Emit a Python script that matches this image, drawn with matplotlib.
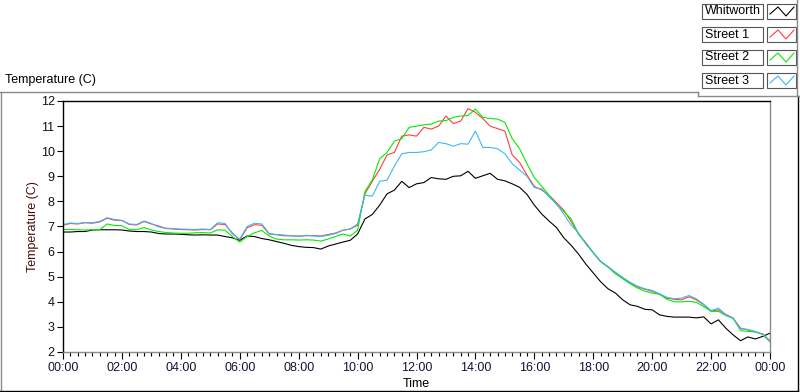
import numpy as np
import matplotlib.pyplot as plt
from matplotlib.lines import Line2D
from matplotlib.patches import Rectangle
from matplotlib.ticker import MultipleLocator, FixedLocator

plt.rcParams['font.family'] = ['Liberation Sans', 'DejaVu Sans']

# time in hours, 15 minute steps over one day
hours = np.arange(0, 24.01, 0.25)

whitworth = [
    6.78, 6.78, 6.80, 6.80, 6.86, 6.87, 6.87, 6.87, 6.86, 6.82, 6.80, 6.80,
    6.78, 6.72, 6.70, 6.70, 6.69, 6.67, 6.66, 6.67, 6.66, 6.66, 6.60, 6.55,
    6.45, 6.62, 6.60, 6.52, 6.47, 6.40, 6.33, 6.25, 6.20, 6.17, 6.16, 6.10,
    6.22, 6.30, 6.38, 6.45, 6.70, 7.30, 7.48, 7.85, 8.30, 8.45, 8.80, 8.55,
    8.70, 8.75, 8.95, 8.90, 8.88, 9.00, 9.02, 9.20, 8.92, 9.02, 9.12, 8.88,
    8.82, 8.70, 8.56, 8.28, 7.85, 7.50, 7.22, 6.96, 6.55, 6.25, 5.90, 5.50,
    5.15, 4.80, 4.52, 4.35, 4.08, 3.88, 3.82, 3.70, 3.68, 3.48, 3.42, 3.39,
    3.39, 3.39, 3.36, 3.40, 3.12, 3.28, 2.95, 2.68, 2.45, 2.60, 2.52, 2.62,
    2.75,
]

street1 = [
    7.05, 7.12, 7.10, 7.15, 7.13, 7.18, 7.33, 7.25, 7.24, 7.08, 7.06, 7.20,
    7.10, 7.02, 6.92, 6.90, 6.88, 6.87, 6.86, 6.88, 6.87, 7.10, 7.08, 6.74,
    6.47, 6.95, 7.07, 7.05, 6.70, 6.67, 6.63, 6.63, 6.62, 6.63, 6.64, 6.62,
    6.68, 6.74, 6.85, 6.90, 7.05, 8.30, 8.80, 9.28, 9.85, 9.95, 10.60, 10.65,
    10.60, 10.95, 10.88, 11.00, 11.40, 11.10, 11.20, 11.70, 11.55, 11.30, 11.00, 10.90,
    10.80, 9.85, 9.55, 9.05, 8.60, 8.45, 8.25, 7.95, 7.65, 7.20, 6.70, 6.35,
    5.95, 5.60, 5.40, 5.15, 4.95, 4.75, 4.60, 4.50, 4.42, 4.30, 4.15, 4.10,
    4.08, 4.20, 4.08, 3.88, 3.62, 3.68, 3.50, 3.35, 2.95, 2.88, 2.80, 2.72,
    2.45,
]

street2 = [
    6.88, 6.88, 6.87, 6.86, 6.87, 6.88, 7.10, 7.04, 7.03, 6.88, 6.87, 6.96,
    6.86, 6.80, 6.76, 6.74, 6.73, 6.73, 6.75, 6.76, 6.74, 6.87, 6.85, 6.60,
    6.38, 6.60, 6.75, 6.84, 6.62, 6.50, 6.47, 6.47, 6.46, 6.47, 6.46, 6.42,
    6.50, 6.60, 6.70, 6.62, 6.85, 8.40, 8.85, 9.70, 9.95, 10.40, 10.50, 10.95,
    11.00, 11.05, 11.08, 11.20, 11.22, 11.35, 11.40, 11.42, 11.68, 11.35, 11.30, 11.28,
    11.15, 10.50, 10.10, 9.50, 8.95, 8.60, 8.25, 7.88, 7.60, 7.30, 6.70, 6.32,
    5.97, 5.60, 5.38, 5.12, 4.92, 4.72, 4.55, 4.42, 4.35, 4.30, 4.10, 4.00,
    4.00, 4.02, 3.98, 3.81, 3.62, 3.62, 3.45, 3.35, 2.85, 2.82, 2.80, 2.70,
    2.40,
]

street3 = [
    7.08, 7.14, 7.12, 7.16, 7.15, 7.20, 7.35, 7.28, 7.24, 7.10, 7.08, 7.22,
    7.12, 6.98, 6.93, 6.92, 6.90, 6.89, 6.88, 6.90, 6.88, 7.15, 7.12, 6.70,
    6.50, 7.00, 7.13, 7.10, 6.72, 6.68, 6.66, 6.63, 6.60, 6.65, 6.62, 6.60,
    6.65, 6.72, 6.85, 6.90, 7.10, 8.25, 8.21, 8.80, 8.85, 9.40, 9.90, 9.95,
    9.95, 9.98, 10.05, 10.35, 10.30, 10.20, 10.30, 10.28, 10.80, 10.15, 10.15, 10.10,
    9.90, 9.50, 9.25, 9.00, 8.55, 8.50, 8.18, 7.90, 7.50, 7.05, 6.75, 6.30,
    5.95, 5.62, 5.40, 5.18, 4.97, 4.78, 4.62, 4.52, 4.45, 4.32, 4.18, 4.12,
    4.15, 4.25, 4.12, 3.90, 3.65, 3.75, 3.48, 3.32, 2.92, 2.90, 2.82, 2.70,
    2.42,
]

series_names = ['Whitworth', 'Street 1', 'Street 2', 'Street 3']
series_colors = ['#000000', '#ff3c3c', '#00ee00', '#3cb8f5']
xtick_labels = ['00:00', '02:00', '04:00', '06:00', '08:00', '10:00', '12:00',
                '14:00', '16:00', '18:00', '20:00', '22:00', '00:00']

W, H = 800, 392
fig = plt.figure(figsize=(W / 100, H / 100), dpi=100)

def fx(px):
    return px / W

def fy(py):
    return 1 - py / H

ax = fig.add_axes([fx(63), fy(352), fx(770) - fx(63), fy(101) - fy(352)])

for vals, col in zip([whitworth, street1, street2, street3], series_colors):
    ax.plot(hours, vals, color=col, lw=0.8)

ax.set_xlim(0, 24)
ax.set_ylim(2, 12)
ax.xaxis.set_major_locator(FixedLocator(np.arange(0, 25, 2)))
ax.set_xticklabels(xtick_labels)
ax.xaxis.set_minor_locator(MultipleLocator(0.25))
ax.set_yticks(np.arange(2, 13, 1))

ax.tick_params(axis='x', which='major', direction='out', length=5, width=0.8,
               labelsize=9, pad=2, labelcolor='#15123a')
ax.tick_params(axis='x', which='minor', direction='out', length=3, width=0.8)
ax.tick_params(axis='y', which='major', direction='out', length=4, width=0.8,
               labelsize=9, pad=2, labelcolor='#111111')

for side in ['top', 'left']:
    ax.spines[side].set_color('black')
    ax.spines[side].set_linewidth(1.0)
for side in ['bottom', 'right']:
    ax.spines[side].set_color('#8a8a8a')
    ax.spines[side].set_linewidth(1.0)

ax.set_xlabel('Time', fontsize=9, labelpad=3)
ax.set_ylabel('Temperature (C)', fontsize=9, color='#4a0c0c', labelpad=1)

fig.text(fx(5), fy(80), 'Temperature (C)', fontsize=9, va='center', ha='left')

# outer frame
frame = [
    ((0, 92), (698, 92), '#8a8a8a'),
    ((1, 92), (1, 391), '#8a8a8a'),
    ((0, 391), (798, 391), 'black'),
    ((798, 96), (798, 391), 'black'),
    ((698, 92), (698, 96), '#8a8a8a'),
    ((698, 96), (800, 96), '#8a8a8a'),
    ((797, 0), (797, 96), '#8a8a8a'),
]
for (x0, y0), (x1, y1), c in frame:
    fig.add_artist(Line2D([fx(x0), fx(x1)], [fy(y0), fy(y1)], color=c, lw=1.0))

# legend boxes
row_top = [4, 27, 50, 73]
for name, col, top in zip(series_names, series_colors, row_top):
    fig.add_artist(Rectangle((fx(702), fy(top + 15)), fx(763) - fx(702), fy(top) - fy(top + 15),
                             fill=True, facecolor='white', edgecolor='#555555', lw=0.8))
    fig.text(fx(705), fy(top + 7.5), name, fontsize=9, va='center', ha='left')
    fig.add_artist(Rectangle((fx(767), fy(top + 15)), fx(796) - fx(767), fy(top) - fy(top + 15),
                             fill=True, facecolor='white', edgecolor='#555555', lw=0.8))
    zx = [770, 778, 786, 794]
    zy = [top + 10, top + 3, top + 12, top + 3]
    fig.add_artist(Line2D([fx(v) for v in zx], [fy(v) for v in zy], color=col, lw=0.8))

fig.savefig('out.png', dpi=100)
